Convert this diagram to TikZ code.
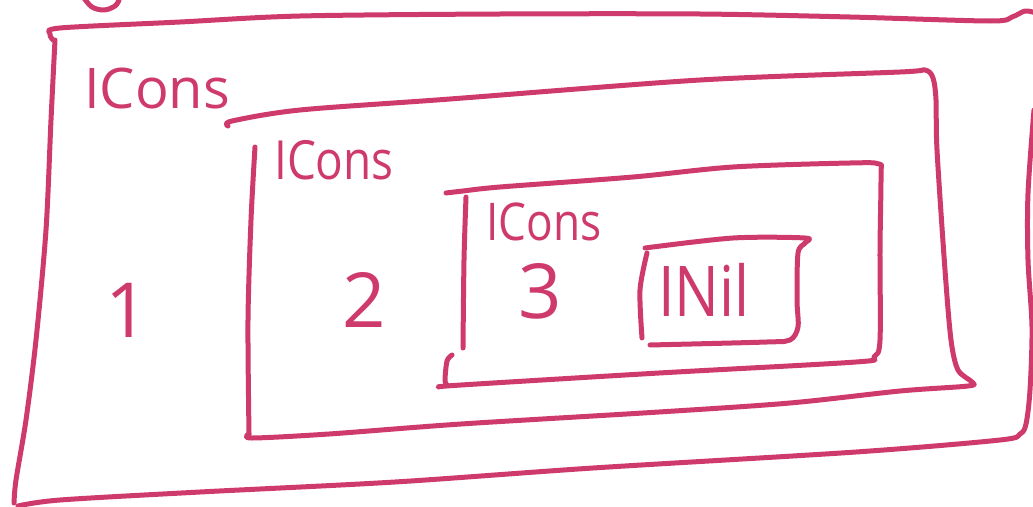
\documentclass[tikz,border=0pt]{standalone}
\usepackage{fontspec}
\setmainfont{Open Sans}
\definecolor{pk}{HTML}{CF3A6C}
\tikzset{
  sk/.style={draw=pk, line width=5pt, line cap=round, line join=round},
  lbl/.style={text=pk, inner sep=0pt, anchor=center},
}
\begin{document}
\begin{tikzpicture}[x=1pt,y=-1pt]
\useasboundingbox (0,0) rectangle (1033,506);
% top arc fragment
\draw[sk] plot[smooth,tension=0.6] coordinates {(84,-2) (92,7) (104,10) (115,6) (119,0)};
% outer box
\draw[sk] plot[smooth,tension=0.5] coordinates {(53,40) (50,34) (60,28) (180,22) (300,16) (500,14) (700,14) (850,17) (990,21) (1012,17) (1025,11) (1036,13)};
\draw[sk] plot[smooth,tension=0.5] coordinates {(55,40) (51,120) (46,230) (36,340) (26,420) (16,480) (14,503)};
\draw[sk] plot[smooth,tension=0.5] coordinates {(18,506) (60,500) (200,492) (395,482) (593,468) (856,452) (1000,440) (1020,434) (1026,424) (1030,390) (1032,327) (1028,260) (1028,193) (1034,110)};
% second box
\draw[sk] plot[smooth,tension=0.5] coordinates {(228,126) (232,121) (300,110) (450,99) (700,80) (900,72) (925,70) (933,78) (936,100) (937,150) (945,270) (951,340) (958,370) (972,382) (968,386) (900,391) (790,403) (659,412) (461,424) (329,434) (252,438) (249,434)};
\draw[sk] plot[smooth,tension=0.5] coordinates {(255,147) (251,220) (248,320) (249,434)};
% third box
\draw[sk] plot[smooth,tension=0.5] coordinates {(446,193) (463,191) (500,187) (633,177) (733,167) (850,163) (879,164) (881,175) (880,250) (880,340) (874,357) (856,362) (659,373) (461,385) (439,387)};
\draw[sk] plot[smooth,tension=0.5] coordinates {(466,197) (464,260) (463,348)};
\draw[sk] plot[smooth,tension=0.5] coordinates {(452,355) (447,361) (445,380) (447,385)};
% Nil box
\draw[sk] plot[smooth,tension=0.5] coordinates {(645,248) (733,238) (805,238) (805,243) (798,253) (797,300) (798,327) (790,340) (767,342) (650,345)};
\draw[sk] plot[smooth,tension=0.5] coordinates {(647,253) (640,290) (642,338)};
% labels
\node[lbl, font=\fontsize{56}{56}\selectfont] (l1) at (157,88) {ICons};
\node[lbl, font=\fontsize{54}{54}\selectfont, xscale=0.85] (l2) at (334,160) {ICons};
\node[lbl, font=\fontsize{52}{52}\selectfont, xscale=0.85] (l3) at (544,222) {ICons};
\node[lbl, font=\fontsize{70}{70}\selectfont, xscale=0.85] (nil) at (704,290) {INil};
\node[lbl, font=\fontsize{76}{76}\selectfont] (n1) at (127,310) {1};
\node[lbl, font=\fontsize{76}{76}\selectfont] (n2) at (364,300) {2};
\node[lbl, font=\fontsize{76}{76}\selectfont] (n3) at (540,291) {3};
\end{tikzpicture}
\end{document}
